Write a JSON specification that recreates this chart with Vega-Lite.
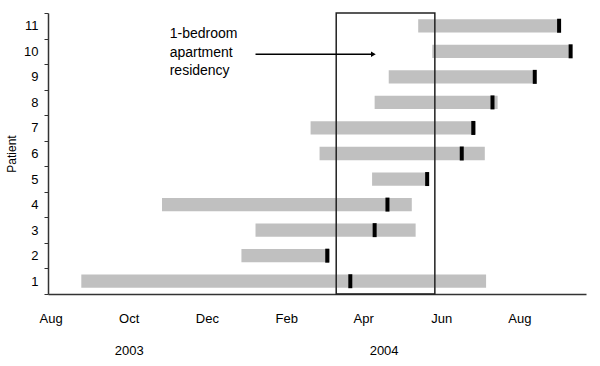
{
  "$schema": "https://vega.github.io/schema/vega-lite/v6.json",
  "width": 538,
  "height": 281,
  "autosize": {"type": "none"},
  "padding": {"left": 48, "top": 13, "right": 14, "bottom": 72},
  "background": "white",
  "config": {
    "view": {"stroke": null},
    "font": "Liberation Sans",
    "axis": {"labelFont": "Liberation Sans", "titleFont": "Liberation Sans", "labelColor": "black", "titleColor": "black", "domainColor": "#333333", "domainWidth": 1.5, "grid": false}
  },
  "datasets": {
    "stays": [
      {"patient": 1, "start": "2003-08-25", "end": "2004-07-06", "event": "2004-03-22"},
      {"patient": 2, "start": "2003-12-28", "end": "2004-03-06", "event": "2004-03-04"},
      {"patient": 3, "start": "2004-01-08", "end": "2004-05-12", "event": "2004-04-10"},
      {"patient": 4, "start": "2003-10-27", "end": "2004-05-09", "event": "2004-04-20"},
      {"patient": 5, "start": "2004-04-08", "end": "2004-05-22", "event": "2004-05-21"},
      {"patient": 6, "start": "2004-02-27", "end": "2004-07-05", "event": "2004-06-17"},
      {"patient": 7, "start": "2004-02-20", "end": "2004-06-28", "event": "2004-06-26"},
      {"patient": 8, "start": "2004-04-10", "end": "2004-07-15", "event": "2004-07-11"},
      {"patient": 9, "start": "2004-04-21", "end": "2004-08-14", "event": "2004-08-13"},
      {"patient": 10, "start": "2004-05-25", "end": "2004-09-11", "event": "2004-09-10"},
      {"patient": 11, "start": "2004-05-14", "end": "2004-09-02", "event": "2004-09-01"}
    ],
    "box": [{"start": "2004-03-11", "end": "2004-05-27"}],
    "note": [{"patient": 10, "date": "2003-11-02", "arrowStart": "2004-01-08", "arrowEnd": "2004-04-09", "text": ["1-bedroom", "apartment", "residency"]}]
  },
  "layer": [
    {
      "data": {"name": "stays"},
      "mark": {"type": "bar", "color": "#c0c0c0", "height": {"band": 0.52}},
      "encoding": {
        "x": {
          "field": "start", "type": "temporal", "title": null,
          "scale": {"type": "utc", "domain": [{"year": 2003, "month": 7, "date": 30, "utc": true}, {"year": 2004, "month": 9, "date": 22, "utc": true}]},
          "axis": {
            "values": [
              {"year": 2003, "month": 8, "date": 1, "utc": true},
              {"year": 2003, "month": 10, "date": 1, "utc": true},
              {"year": 2003, "month": 12, "date": 1, "utc": true},
              {"year": 2004, "month": 2, "date": 1, "utc": true},
              {"year": 2004, "month": 4, "date": 1, "utc": true},
              {"year": 2004, "month": 4, "date": 17, "utc": true},
              {"year": 2004, "month": 6, "date": 1, "utc": true},
              {"year": 2004, "month": 8, "date": 1, "utc": true}
            ],
            "labelExpr": "utcdate(datum.value) == 17 ? ['', '2004'] : (utcmonth(datum.value) == 9 ? ['Oct', '2003'] : utcFormat(datum.value, '%b'))",
            "labelOverlap": false,
            "labelFontSize": 13,
            "labelLineHeight": 32,
            "labelPadding": 18,
            "ticks": false,
            "tickSize": 0,
            "labelFlush": false
          }
        },
        "x2": {"field": "end"},
        "y": {
          "field": "patient", "type": "ordinal", "title": "Patient",
          "scale": {"domain": [11, 10, 9, 8, 7, 6, 5, 4, 3, 2, 1], "paddingInner": 0, "paddingOuter": 0},
          "axis": {"tickBand": "extent", "tickSize": 4, "tickColor": "#333333", "labelFontSize": 13, "labelPadding": 6, "titleFontSize": 12, "titleFontWeight": "normal", "titlePadding": 5}
        }
      }
    },
    {
      "data": {"name": "stays"},
      "mark": {"type": "tick", "color": "black", "opacity": 1, "thickness": 4, "size": 14, "orient": "vertical"},
      "encoding": {
        "x": {"field": "event", "type": "temporal"},
        "y": {"field": "patient", "type": "ordinal"}
      }
    },
    {
      "data": {"name": "box"},
      "mark": {"type": "rect", "fill": null, "fillOpacity": 0, "stroke": "#222222", "strokeWidth": 1.5},
      "encoding": {
        "x": {"field": "start", "type": "temporal"},
        "x2": {"field": "end"}
      }
    },
    {
      "data": {"name": "note"},
      "mark": {"type": "text", "align": "left", "baseline": "middle", "fontSize": 14, "lineHeight": 18.5, "color": "black", "dy": -17},
      "encoding": {
        "x": {"field": "date", "type": "temporal"},
        "y": {"field": "patient", "type": "ordinal"},
        "text": {"field": "text"}
      }
    },
    {
      "data": {"name": "note"},
      "mark": {"type": "rule", "color": "black", "strokeWidth": 1.5, "yOffset": 3},
      "encoding": {
        "x": {"field": "arrowStart", "type": "temporal"},
        "x2": {"field": "arrowEnd"},
        "y": {"field": "patient", "type": "ordinal"}
      }
    },
    {
      "data": {"name": "note"},
      "mark": {"type": "point", "shape": "triangle-right", "filled": true, "color": "black", "size": 30, "opacity": 1, "yOffset": 3},
      "encoding": {
        "x": {"field": "arrowEnd", "type": "temporal"},
        "y": {"field": "patient", "type": "ordinal"}
      }
    }
  ]
}
